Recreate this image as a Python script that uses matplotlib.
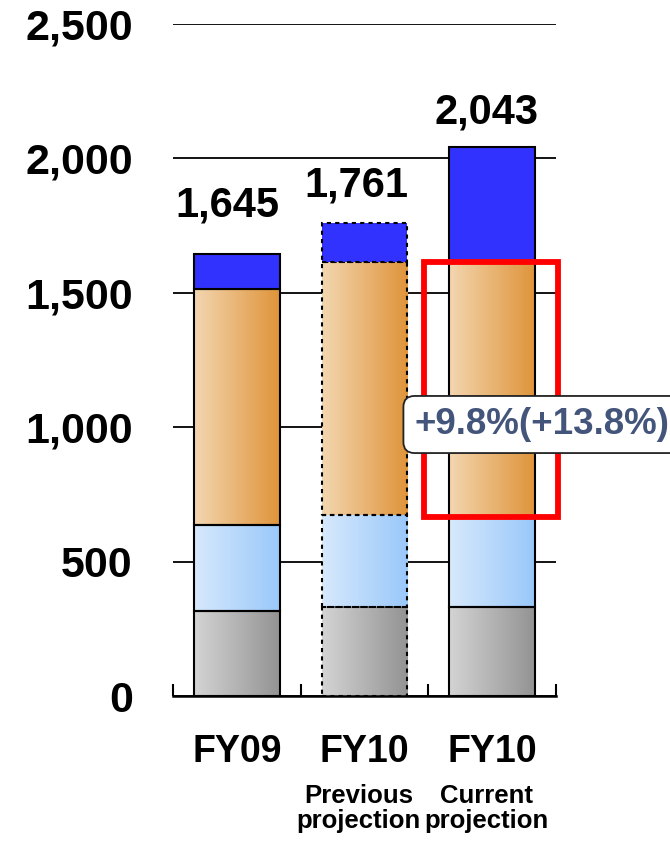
import numpy as np
import matplotlib.pyplot as plt
from matplotlib.colors import LinearSegmentedColormap
from matplotlib.patches import Rectangle

plt.rcParams['font.family'] = ['Liberation Sans', 'DejaVu Sans']
plt.rcParams['font.weight'] = 'bold'

periods = ["FY09", "FY10", "FY10"]
notes = [None, ("Previous", "projection"), ("Current", "projection")]
totals = [1645, 1761, 2043]

# stacked segments, bottom to top
seg_gray = [317, 330, 332]
seg_lightblue = [319, 343, 333]
seg_orange = [877, 942, 950]
seg_blue = [132, 146, 428]

growth_text = "+9.8%(+13.8%)"
yticks = [0, 500, 1000, 1500, 2000, 2500]

fig = plt.figure(figsize=(6.7, 8.42), dpi=100)
ax = fig.add_axes([173/670, 146/842, 383/670, 672/842])

x = np.arange(len(periods))
w = 0.67

grads = [("#d4d4d4", "#939393"), ("#d7e9fc", "#99c8fa"), ("#f3d6b0", "#df943a")]


def grad_block(xc, y0, h, cols, ls):
    cmap = LinearSegmentedColormap.from_list("g", list(cols))
    g = np.linspace(0, 1, 256).reshape(1, -1)
    ax.imshow(g, cmap=cmap, extent=[xc - w/2, xc + w/2, y0, y0 + h],
              aspect='auto', zorder=2, interpolation='bilinear')
    ax.add_patch(Rectangle((xc - w/2, y0), w, h, fill=False, ec='black',
                           lw=1.5, ls=ls, zorder=3))


for i in range(len(periods)):
    # previous projection is drawn with dotted outlines
    ls = (0, (2, 2)) if i == 1 else '-'
    bottom = 0
    for vals, cols in zip([seg_gray, seg_lightblue, seg_orange], grads):
        grad_block(x[i], bottom, vals[i], cols, ls)
        bottom += vals[i]
    ax.add_patch(Rectangle((x[i] - w/2, bottom), w, seg_blue[i],
                           fc='#3232ff', ec='black', lw=1.5, ls=ls, zorder=3))

# total labels above each bar
label_off = [(-7, 27), (-6, 19), (-4, 17)]
for i, t in enumerate(totals):
    ax.annotate(f"{t:,}", xy=(x[i], t), xytext=label_off[i], textcoords='offset points',
                ha='center', va='baseline', fontsize=30, fontweight='bold')

# red frame around the orange part of the current projection
y_lo = seg_gray[2] + seg_lightblue[2]
ax.add_patch(Rectangle((x[2] - 0.537, y_lo), 1.05, seg_orange[2], fill=False,
                       ec='#ff0000', lw=4.2, zorder=4, clip_on=False))

ax.text(2.39, 1010, growth_text, ha='center', va='center', fontsize=26.5,
        fontweight='bold', color='#44557b', zorder=6, clip_on=False,
        bbox=dict(boxstyle='round,pad=0.3,rounding_size=0.3', fc='white',
                  ec='#222222', lw=1.3))

ax.set_xlim(-0.5, 2.5)
ax.set_ylim(0, 2500)
ax.set_yticks(yticks)
ax.set_yticklabels([f"{v:,}" for v in yticks])
ax.tick_params(axis='y', length=0, pad=29, labelsize=31)
ax.yaxis.grid(True, color='black', lw=1.3)
ax.set_axisbelow(True)

ax.set_xticks([])
ax.set_xticks([-0.5, 0.5, 1.5, 2.5], minor=True)
ax.tick_params(axis='x', which='minor', direction='in', length=8.6, width=1.5)
for s in ['left', 'right', 'top']:
    ax.spines[s].set_visible(False)
ax.spines['bottom'].set_linewidth(1.8)
ax.spines['bottom'].set_zorder(5)

# category labels under the axis
for i, p in enumerate(periods):
    ax.annotate(p, xy=(x[i], 0), xycoords=('data', 'axes fraction'),
                xytext=(0, -47.3), textcoords='offset points',
                ha='center', va='baseline', fontsize=27, fontweight='bold')
    if notes[i]:
        for line, dy in zip(notes[i], [-77.3, -95.3]):
            ax.annotate(line, xy=(x[i], 0), xycoords=('data', 'axes fraction'),
                        xytext=(-4, dy), textcoords='offset points',
                        ha='center', va='baseline', fontsize=18.5, fontweight='bold')

fig.savefig("out.png", dpi=100)
